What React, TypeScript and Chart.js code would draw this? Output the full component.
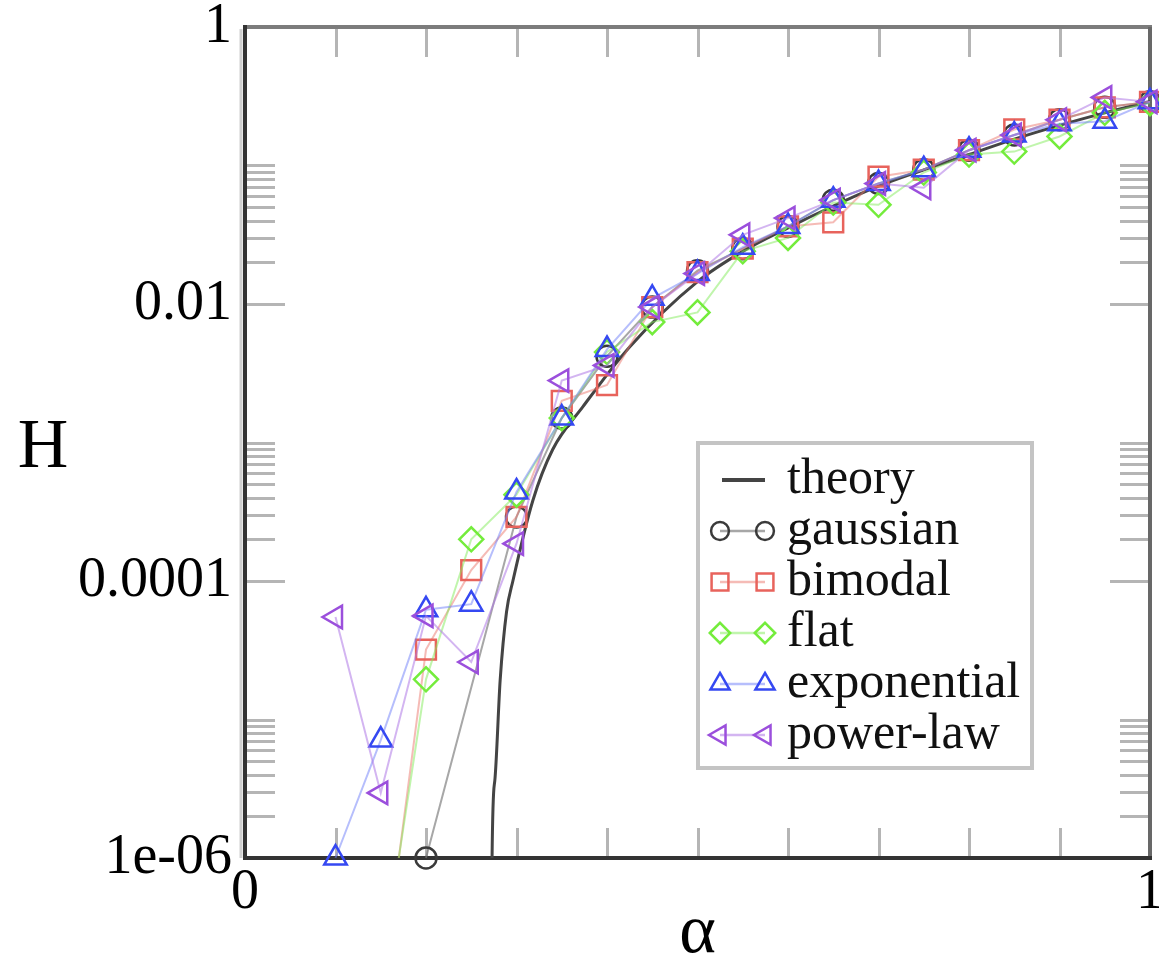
import React, { useEffect, useRef } from 'react';
import { Chart, registerables } from 'chart.js';

Chart.register(...registerables);

// ---------- data ----------
const alphaValues = [0.1, 0.15, 0.2, 0.25, 0.3, 0.35, 0.4, 0.45, 0.5, 0.55, 0.6, 0.65, 0.7, 0.75, 0.8, 0.85, 0.9, 0.95, 1.0];

const gaussianH = [null, null, 1.0e-6, null, 2.9e-4, 1.5e-3, 4.2e-3, 9.5e-3, 0.0174, 0.0251, 0.0363, 0.0562, 0.0741, 0.0933, 0.129, 0.166, 0.214, 0.263, 0.288];
const bimodalH = [null, 1.0e-7, 3.2e-5, 1.2e-4, 2.9e-4, 2.0e-3, 2.6e-3, 9.5e-3, 0.017, 0.0251, 0.0363, 0.0389, 0.083, 0.0933, 0.129, 0.182, 0.214, 0.263, 0.288];
const flatH = [null, 1.4e-7, 1.95e-5, 2.0e-4, 4.2e-4, 1.5e-3, 4.5e-3, 7.4e-3, 8.7e-3, 0.024, 0.03, 0.054, 0.052, 0.089, 0.12, 0.126, 0.162, 0.24, 0.282];
const exponentialH = [1.0e-6, 7.1e-6, 6.2e-5, 6.8e-5, 4.4e-4, 1.5e-3, 4.7e-3, 0.011, 0.0166, 0.0257, 0.0363, 0.0562, 0.0741, 0.0933, 0.129, 0.166, 0.2, 0.209, 0.288];
const powerLawH = [5.5e-5, 2.95e-6, 5.6e-5, 2.6e-5, 1.86e-4, 2.8e-3, 3.6e-3, 9.5e-3, 0.0166, 0.0316, 0.0417, 0.0562, 0.0741, 0.069, 0.129, 0.166, 0.214, 0.31, 0.288];

const theoryAlpha = [0.2722, 0.273, 0.276, 0.282, 0.289, 0.296, 0.318, 0.34, 0.373, 0.425, 0.5, 0.55, 0.6, 0.65, 0.7, 0.75, 0.8, 0.85, 0.9, 0.95, 1.0];
const theoryH = [1e-8, 1.0e-6, 3.6e-6, 1.95e-5, 6.0e-5, 1.0e-4, 3.8e-4, 8.9e-4, 1.8e-3, 4.9e-3, 0.0145, 0.024, 0.0355, 0.051, 0.071, 0.093, 0.12, 0.155, 0.195, 0.24, 0.29];

const seriesLabels = ['theory', 'gaussian', 'bimodal', 'flat', 'exponential', 'power-law'];

// axis ticks
const xTickValues = [0, 0.1, 0.2, 0.3, 0.4, 0.5, 0.6, 0.7, 0.8, 0.9, 1];
const xMinorTicks = [0.1, 0.2, 0.3, 0.4, 0.5, 0.6, 0.7, 0.8, 0.9];
const xLabelValues = [0, 1];
const xLabels = ['0', '1'];

const yMajorTicks = [1e-6, 1e-4, 1e-2, 1];
const yMajorLabels = ['1e-06', '0.0001', '0.01', '1'];
const yMinorTicks = [
  2e-6, 3e-6, 4e-6, 5e-6, 6e-6, 7e-6, 8e-6, 9e-6, 1e-5,
  2e-4, 3e-4, 4e-4, 5e-4, 6e-4, 7e-4, 8e-4, 9e-4, 1e-3,
  0.02, 0.03, 0.04, 0.05, 0.06, 0.07, 0.08, 0.09, 0.1,
];

// ---------- helpers ----------
const SERIF = '"Liberation Serif", "Times New Roman", serif';

const toPoints = (xs: number[], ys: (number | null)[]) =>
  xs.map((x, i) => ({ x, y: ys[i] }));

function drawMarker(ctx: CanvasRenderingContext2D, style: string, rotDeg: number, x: number, y: number, r: number) {
  ctx.beginPath();
  if (style === 'circle') {
    ctx.arc(x, y, r, 0, Math.PI * 2);
  } else if (style === 'rect') {
    const s = Math.SQRT1_2 * r;
    ctx.rect(x - s, y - s, 2 * s, 2 * s);
  } else if (style === 'rectRot') {
    ctx.moveTo(x - r, y);
    ctx.lineTo(x, y - r);
    ctx.lineTo(x + r, y);
    ctx.lineTo(x, y + r);
    ctx.closePath();
  } else if (style === 'triangle') {
    let rad = (rotDeg * Math.PI) / 180;
    ctx.moveTo(x + Math.sin(rad) * r, y - Math.cos(rad) * r);
    rad += (2 * Math.PI) / 3;
    ctx.lineTo(x + Math.sin(rad) * r, y - Math.cos(rad) * r);
    rad += (2 * Math.PI) / 3;
    ctx.lineTo(x + Math.sin(rad) * r, y - Math.cos(rad) * r);
    ctx.closePath();
  }
  ctx.stroke();
}

const framePlugin = {
  id: 'frameTicks',
  beforeDatasetsDraw(chart: any) {
    const { ctx, chartArea, scales } = chart;
    const { left, right, top, bottom } = chartArea;
    const xs = scales.x;
    const ys = scales.y;
    ctx.save();
    ctx.lineCap = 'butt';
    ctx.strokeStyle = '#b5b5b5';
    ctx.lineWidth = 3;
    xMinorTicks.forEach((v) => {
      const px = Math.round(xs.getPixelForValue(v)) + 0.5;
      ctx.beginPath();
      ctx.moveTo(px, top);
      ctx.lineTo(px, top + 30);
      ctx.moveTo(px, bottom);
      ctx.lineTo(px, bottom - 30);
      ctx.stroke();
    });
    yMinorTicks.forEach((v) => {
      const py = Math.round(ys.getPixelForValue(v)) + 0.5;
      ctx.beginPath();
      ctx.moveTo(left, py);
      ctx.lineTo(left + 30, py);
      ctx.moveTo(right, py);
      ctx.lineTo(right - 30, py);
      ctx.stroke();
    });
    yMajorTicks.forEach((v) => {
      const py = Math.round(ys.getPixelForValue(v)) + 0.5;
      if (py < top + 3 || py > bottom - 3) return;
      ctx.beginPath();
      ctx.moveTo(left, py);
      ctx.lineTo(left + 40, py);
      ctx.moveTo(right, py);
      ctx.lineTo(right - 40, py);
      ctx.stroke();
    });
    // faint outer shadow on the left
    ctx.strokeStyle = '#d0d0d0';
    ctx.lineWidth = 3;
    ctx.beginPath();
    ctx.moveTo(left - 4, top + 2);
    ctx.lineTo(left - 4, bottom);
    ctx.stroke();
    // frame
    ctx.lineWidth = 4;
    ctx.strokeStyle = '#7c7c7c';
    ctx.beginPath();
    ctx.moveTo(left - 2, top);
    ctx.lineTo(right + 2, top);
    ctx.stroke();
    ctx.strokeStyle = '#686868';
    ctx.beginPath();
    ctx.moveTo(right, top);
    ctx.lineTo(right, bottom);
    ctx.stroke();
    ctx.strokeStyle = '#333333';
    ctx.beginPath();
    ctx.moveTo(left, top - 2);
    ctx.lineTo(left, bottom + 2);
    ctx.moveTo(left - 2, bottom);
    ctx.lineTo(right + 2, bottom);
    ctx.stroke();
    ctx.restore();
  },
};

const legendPlugin = {
  id: 'boxLegend',
  afterDatasetsDraw(chart: any) {
    const { ctx } = chart;
    ctx.save();
    const bx = 698, by = 443, bw = 334, bh = 325;
    ctx.fillStyle = '#ffffff';
    ctx.fillRect(bx, by, bw, bh);
    ctx.strokeStyle = '#c4c4c4';
    ctx.lineWidth = 4;
    ctx.strokeRect(bx, by, bw, bh);
    const x1 = 720, x2 = 765;
    chart.data.datasets.forEach((d: any, i: number) => {
      const cy = 480 + i * 51;
      if (i === 0) {
        ctx.strokeStyle = d.borderColor;
        ctx.lineWidth = 4;
        ctx.beginPath();
        ctx.moveTo(x1 + 2, cy);
        ctx.lineTo(x2, cy);
        ctx.stroke();
      } else {
        ctx.strokeStyle = d.borderColor;
        ctx.lineWidth = 2.5;
        ctx.beginPath();
        ctx.moveTo(x1, cy);
        ctx.lineTo(x2, cy);
        ctx.stroke();
        ctx.strokeStyle = d.pointBorderColor;
        ctx.lineWidth = d.pointBorderWidth;
        drawMarker(ctx, d.pointStyle, d.pointRotation || 0, x1, cy, d.pointRadius * 0.85);
        drawMarker(ctx, d.pointStyle, d.pointRotation || 0, x2, cy, d.pointRadius * 0.85);
      }
      ctx.fillStyle = '#111111';
      ctx.font = `50px ${SERIF}`;
      ctx.textAlign = 'left';
      ctx.textBaseline = 'middle';
      ctx.fillText(d.label, 787, cy);
    });
    // y-axis title (upright)
    ctx.font = `70px ${SERIF}`;
    ctx.fillStyle = '#000000';
    ctx.textAlign = 'center';
    ctx.textBaseline = 'middle';
    ctx.fillText('H', 43, 449);
    ctx.restore();
  },
};

function seriesDataset(label: string, ys: (number | null)[], marker: string, line: string, style: string, radius: number, order: number, clip: any, rotation = 0, spanGaps = false) {
  return {
    label,
    data: toPoints(alphaValues, ys),
    borderColor: line,
    borderWidth: 2,
    pointStyle: style,
    pointRotation: rotation,
    pointRadius: radius,
    pointBorderColor: marker,
    pointBackgroundColor: 'rgba(255,255,255,0)',
    pointBorderWidth: 2.5,
    showLine: true,
    spanGaps,
    order,
    clip,
  };
}

export default function App() {
  const ref = useRef<HTMLCanvasElement>(null);

  useEffect(() => {
    const canvas = ref.current;
    if (!canvas) return;
    const clipBottomZero = { left: 16, top: 16, right: 16, bottom: 0 };
    const chart = new Chart(canvas, {
      type: 'line',
      data: {
        datasets: [
          {
            label: seriesLabels[0],
            data: toPoints(theoryAlpha, theoryH),
            borderColor: '#444444',
            borderWidth: 3,
            pointRadius: 0,
            cubicInterpolationMode: 'monotone',
            order: 6,
            clip: clipBottomZero,
          } as any,
          seriesDataset(seriesLabels[1], gaussianH, '#3a3a3a', 'rgba(120,120,120,0.65)', 'circle', 10.5, 5, 16, 0, true),
          seriesDataset(seriesLabels[2], bimodalH, '#e8635c', 'rgba(235,120,110,0.5)', 'rect', 14, 4, clipBottomZero),
          seriesDataset(seriesLabels[3], flatH, '#74ec3c', 'rgba(130,235,90,0.5)', 'rectRot', 12, 3, clipBottomZero),
          seriesDataset(seriesLabels[4], exponentialH, '#3548f2', 'rgba(110,125,250,0.5)', 'triangle', 13, 2, 16),
          seriesDataset(seriesLabels[5], powerLawH, '#9b4fdc', 'rgba(175,120,230,0.55)', 'triangle', 13, 1, 16, -90),
        ],
      },
      options: {
        responsive: false,
        maintainAspectRatio: false,
        devicePixelRatio: 1,
        animation: false,
        events: [],
        layout: { autoPadding: false, padding: { top: 27, right: 9, left: 0, bottom: 0 } },
        plugins: {
          legend: { display: false },
          tooltip: { enabled: false },
        },
        scales: {
          x: {
            type: 'linear',
            min: 0,
            max: 1,
            afterBuildTicks: (s: any) => {
              s.ticks = xTickValues.map((v) => ({ value: v }));
            },
            afterFit: (s: any) => {
              s.height = 104;
              s.paddingLeft = 0;
              s.paddingRight = 0;
            },
            grid: { display: false, drawTicks: false },
            border: { display: false },
            ticks: {
              autoSkip: false,
              maxRotation: 0,
              padding: 2,
              color: '#000000',
              font: { family: SERIF, size: 56 },
              callback: (v: any) => {
                const idx = xLabelValues.findIndex((t) => Math.abs(t - v) < 1e-9);
                return idx >= 0 ? xLabels[idx] : '';
              },
            },
            title: {
              display: true,
              text: 'α',
              color: '#000000',
              padding: 0,
              font: { family: SERIF, size: 70, lineHeight: 0.8 },
            },
          },
          y: {
            type: 'logarithmic',
            min: 1e-6,
            max: 1,
            afterBuildTicks: (s: any) => {
              const all = [...yMajorTicks, ...yMinorTicks].sort((a, b) => a - b);
              s.ticks = all.map((v) => ({ value: v }));
            },
            afterFit: (s: any) => {
              s.width = 245;
              s.paddingTop = 0;
              s.paddingBottom = 0;
            },
            grid: { display: false, drawTicks: false },
            border: { display: false },
            ticks: {
              autoSkip: false,
              padding: 13,
              color: '#000000',
              font: { family: SERIF, size: 56 },
              callback: (v: any) => {
                const idx = yMajorTicks.findIndex((t) => Math.abs(Math.log10(t) - Math.log10(v)) < 1e-6);
                return idx >= 0 ? yMajorLabels[idx] : '';
              },
            },
            title: { display: false },
          },
        },
      } as any,
      plugins: [framePlugin, legendPlugin],
    });
    return () => chart.destroy();
  }, []);

  return (
    <div style={{ position: 'absolute', left: 0, top: 0, width: 1159, height: 962, background: '#ffffff' }}>
      <canvas ref={ref} width={1159} height={962} style={{ display: 'block', width: 1159, height: 962 }} />
    </div>
  );
}
